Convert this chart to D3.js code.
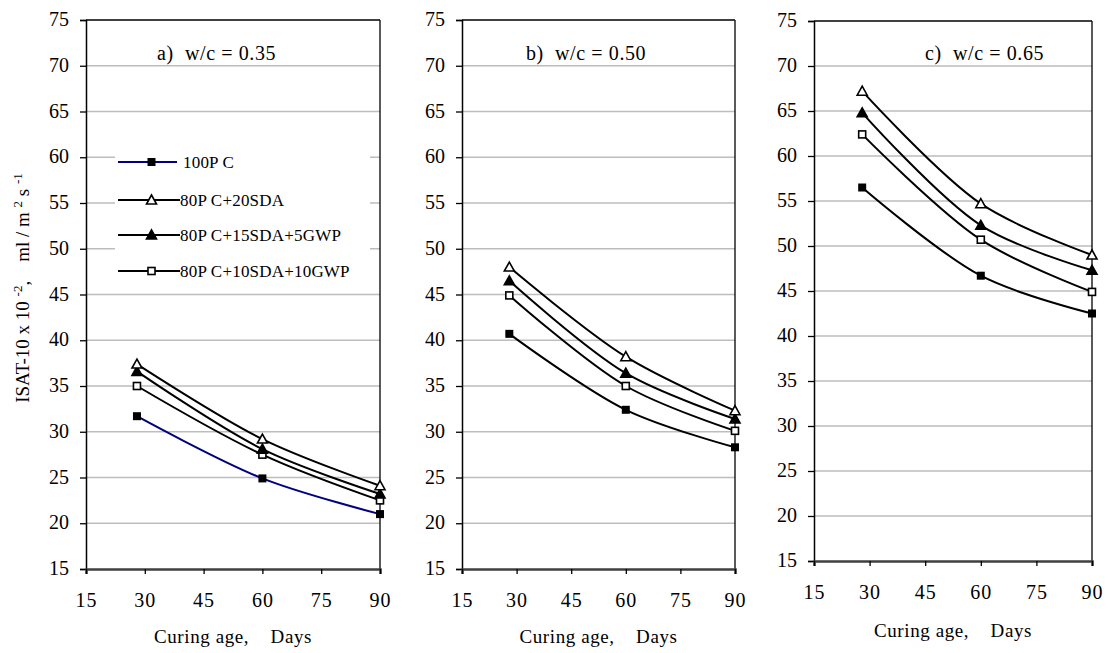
<!DOCTYPE html>
<html>
<head>
<meta charset="utf-8">
<script src="https://cdn.jsdelivr.net/npm/d3@7"></script>
<style>
  html, body { margin: 0; padding: 0; background: #fff; }
  svg { display: block; }
  svg text { font-family: "Liberation Serif", "DejaVu Serif", serif !important; fill: #000; white-space: pre; }
</style>
</head>
<body>
<svg id="chart" width="1108" height="653"></svg>
<script>
// ---------- data ----------
const ages = [28, 60, 90];
const seriesNames = ["100P C", "80P C+20SDA", "80P C+15SDA+5GWP", "80P C+10SDA+10GWP"];
const panelTitles = ["a)  w/c = 0.35", "b)  w/c = 0.50", "c)  w/c = 0.65"];
const xTicks = [15, 30, 45, 60, 75, 90];
const yTicks = [15, 20, 25, 30, 35, 40, 45, 50, 55, 60, 65, 70, 75];

// w/c = 0.35
const a_100PC = [31.7, 24.9, 21.0];
const a_20SDA = [37.4, 29.2, 24.1];
const a_15SDA5GWP = [36.6, 28.1, 23.2];
const a_10SDA10GWP = [35.0, 27.5, 22.5];
// w/c = 0.50
const b_100PC = [40.7, 32.4, 28.3];
const b_20SDA = [48.0, 38.2, 32.3];
const b_15SDA5GWP = [46.5, 36.4, 31.4];
const b_10SDA10GWP = [44.9, 35.0, 30.1];
// w/c = 0.65
const c_100PC = [56.5, 46.7, 42.5];
const c_20SDA = [67.2, 54.7, 49.0];
const c_15SDA5GWP = [64.8, 52.3, 47.3];
const c_10SDA10GWP = [62.4, 50.7, 44.9];

const panelData = [
  [a_100PC, a_20SDA, a_15SDA5GWP, a_10SDA10GWP],
  [b_100PC, b_20SDA, b_15SDA5GWP, b_10SDA10GWP],
  [c_100PC, c_20SDA, c_15SDA5GWP, c_10SDA10GWP]
];

// ---------- layout / style ----------
const layouts = [
  { left: 86, right: 380, top: 20, bottom: 569, titleX: 157, xLabelDy: 74 },
  { left: 462, right: 735, top: 20, bottom: 569, titleX: 526, xLabelDy: 74 },
  { left: 814, right: 1092, top: 21, bottom: 561, titleX: 925, xLabelDy: 76 }
];
const markerTypes = ["filledSquare", "openTriangle", "filledTriangle", "openSquare"];
const lineColors = [["#000080", "#000", "#000", "#000"], ["#000", "#000", "#000", "#000"], ["#000", "#000", "#000", "#000"]];

const svg = d3.select("#chart");

function drawMarker(g, type, x, y) {
  if (type === "filledSquare") {
    g.append("rect").attr("x", x - 4).attr("y", y - 4).attr("width", 8).attr("height", 8)
      .attr("fill", "#000");
  } else if (type === "openSquare") {
    g.append("rect").attr("x", x - 3.5).attr("y", y - 3.5).attr("width", 7).attr("height", 7)
      .attr("fill", "#fff").attr("stroke", "#000").attr("stroke-width", 1.6);
  } else {
    const filled = type === "filledTriangle";
    const s = 5;
    g.append("path")
      .attr("d", `M${x},${y - s}L${x + s},${y + s * 0.8}L${x - s},${y + s * 0.8}Z`)
      .attr("fill", filled ? "#000" : "#fff").attr("stroke", "#000").attr("stroke-width", 1.6)
      .attr("stroke-linejoin", "miter");
  }
}

layouts.forEach((L, pi) => {
  const x = d3.scaleLinear().domain([15, 90]).range([L.left, L.right]);
  const y = d3.scaleLinear().domain([15, 75]).range([L.bottom, L.top]);
  const g = svg.append("g");

  // grid lines
  g.append("g").selectAll("line").data(yTicks.filter(v => v > 15 && v < 75)).join("line")
    .attr("x1", L.left).attr("x2", L.right)
    .attr("y1", d => y(d)).attr("y2", d => y(d))
    .attr("stroke", "#bdbdbd").attr("stroke-width", 1.5);

  // legend background (panel a only) hides gridlines
  if (pi === 0) {
    g.append("rect").attr("x", 115).attr("y", 138).attr("width", 255).attr("height", 150).attr("fill", "#fff");
  }

  // frame: top and right
  g.append("line").attr("x1", L.left).attr("x2", L.right).attr("y1", L.top).attr("y2", L.top)
    .attr("stroke", "#000").attr("stroke-width", 1.3);
  g.append("line").attr("x1", L.right).attr("x2", L.right).attr("y1", L.top).attr("y2", L.bottom)
    .attr("stroke", "#000").attr("stroke-width", 1.3);

  // y axis
  const yAxis = d3.axisLeft(y).tickValues(yTicks).tickSize(6).tickPadding(11).tickFormat(d3.format("d"));
  const ya = g.append("g").attr("transform", `translate(${L.left},0)`).call(yAxis);
  ya.attr("font-family", null);
  ya.select(".domain").attr("stroke", "#000").attr("stroke-width", 1.5);
  ya.selectAll(".tick line").attr("stroke", "#000").attr("stroke-width", 1.3);
  ya.selectAll(".tick text").attr("font-size", 20).attr("dy", "0.28em");

  // x axis
  const xAxis = d3.axisBottom(x).tickValues(xTicks).tickSize(5).tickPadding(19).tickFormat(d3.format("d"));
  const xa = g.append("g").attr("transform", `translate(0,${L.bottom})`).call(xAxis);
  xa.attr("font-family", null);
  xa.select(".domain").attr("stroke", "#404040").attr("stroke-width", 2.5);
  xa.selectAll(".tick line").attr("stroke", "#000").attr("stroke-width", 1.3);
  xa.selectAll(".tick text").attr("font-size", 20).attr("letter-spacing", 1);

  // x axis title
  g.append("text").attr("x", (L.left + L.right) / 2).attr("y", L.bottom + L.xLabelDy)
    .attr("text-anchor", "middle").attr("font-size", 19).attr("letter-spacing", 0.6)
    .text("Curing age,    Days");

  // panel title
  g.append("text").attr("x", L.titleX).attr("y", 60).attr("font-size", 20).attr("letter-spacing", 0.6)
    .text(panelTitles[pi]);

  // series
  const line = d3.line().x((d, i) => x(ages[i])).y(d => y(d)).curve(d3.curveCatmullRom.alpha(0.5));
  const order = [0, 3, 2, 1];
  order.forEach(si => {
    const vals = panelData[pi][si];
    g.append("path").datum(vals).attr("d", line).attr("fill", "none")
      .attr("stroke", lineColors[pi][si]).attr("stroke-width", 2);
  });
  order.forEach(si => {
    const vals = panelData[pi][si];
    const mg = g.append("g");
    vals.forEach((v, i) => drawMarker(mg, markerTypes[si], x(ages[i]), y(v)));
  });

  // legend in panel a
  if (pi === 0) {
    const lg = g.append("g");
    const ys = [162, 200, 235, 271];
    seriesNames.forEach((name, si) => {
      lg.append("line").attr("x1", 118).attr("x2", si === 0 ? 177 : 180)
        .attr("y1", ys[si]).attr("y2", ys[si])
        .attr("stroke", lineColors[0][si]).attr("stroke-width", 2);
      drawMarker(lg, markerTypes[si], 151.5, ys[si]);
      lg.append("text").attr("x", si === 0 ? 183 : 180).attr("y", ys[si] + 6)
        .attr("font-size", 17).attr("letter-spacing", 0.2).text(name);
    });
  }
});

// y axis title (shared, left)
const yt = svg.append("text")
  .attr("transform", "translate(29,288) rotate(-90)")
  .attr("text-anchor", "middle").attr("font-size", 19);
yt.append("tspan").text("ISAT-10 x 10 ");
yt.append("tspan").attr("font-size", 13).attr("baseline-shift", "super").text("-2");
yt.append("tspan").text(",    ml / m ");
yt.append("tspan").attr("font-size", 13).attr("baseline-shift", "super").text("2");
yt.append("tspan").text(" s ");
yt.append("tspan").attr("font-size", 13).attr("baseline-shift", "super").text("-1");
</script>
</body>
</html>
